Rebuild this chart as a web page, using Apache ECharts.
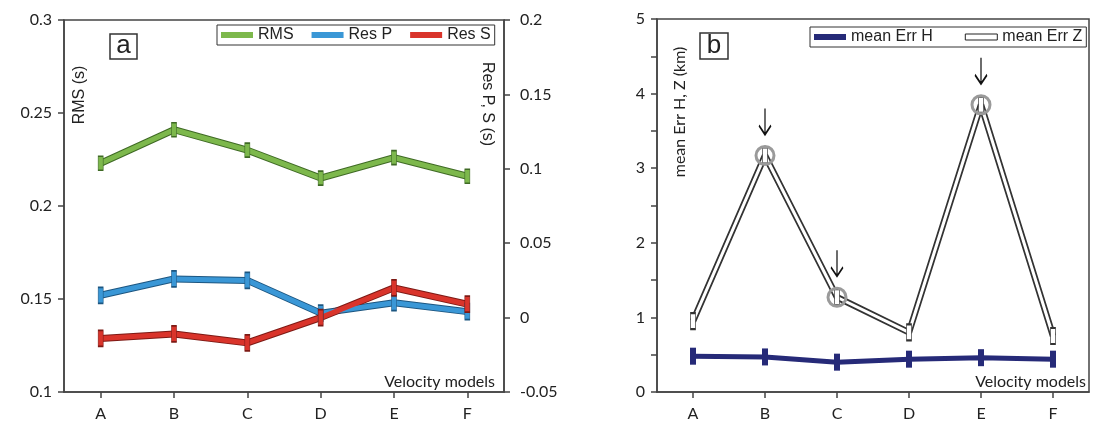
<!DOCTYPE html>
<html>
<head>
<meta charset="utf-8">
<script src="https://cdn.jsdelivr.net/npm/echarts@6/dist/echarts.min.js"></script>
<style>
html,body{margin:0;padding:0;background:#fff;}
#c{width:1098px;height:428px;}
</style>
</head>
<body>
<div id="c"></div>
<script>
// ---- data ----
const categories = ['A', 'B', 'C', 'D', 'E', 'F'];
const rms = [0.223, 0.241, 0.230, 0.215, 0.226, 0.216];
const resP = [0.015, 0.026, 0.025, 0.003, 0.010, 0.004];
const resS = [-0.014, -0.011, -0.017, 0.000, 0.020, 0.009];
const errH = [0.48, 0.47, 0.40, 0.44, 0.46, 0.44];
const errZ = [0.95, 3.17, 1.27, 0.80, 3.85, 0.75];
const markedModels = ['B', 'C', 'E'];
const leftTicksA = { min: 0.1, max: 0.3, step: 0.05 };
const rightTicksA = { min: -0.05, max: 0.2, step: 0.05 };
const ticksB = { min: 0, max: 5, step: 0.5 };

const numFont = 'Lato, "Open Sans", sans-serif';
const arialFont = '"Liberation Sans", Arial, sans-serif';
const axisColor = '#444';
const textColor = '#222';

function fmt2(v) { return String(+v.toFixed(2)); }

const chart = echarts.init(document.getElementById('c'), null, { renderer: 'canvas' });

function catAxis(gridIndex) {
  return {
    type: 'category', gridIndex: gridIndex, data: categories, boundaryGap: true,
    axisLine: { onZero: false, lineStyle: { color: axisColor, width: 1.5 } },
    axisTick: { show: true, alignWithLabel: true, length: 6, lineStyle: { color: axisColor, width: 1.5 } },
    axisLabel: { color: textColor, fontFamily: numFont, fontSize: 16, margin: 14 },
    splitLine: { show: false }
  };
}
function valAxis(gridIndex, t, pos, fmt, margin) {
  return {
    type: 'value', gridIndex: gridIndex, position: pos, min: t.min, max: t.max, interval: t.step,
    axisLine: { show: true, onZero: false, lineStyle: { color: axisColor, width: 1.5 } },
    axisTick: { show: true, length: 6, lineStyle: { color: axisColor, width: 1.5 } },
    axisLabel: { color: textColor, fontFamily: numFont, fontSize: 16, margin: margin, formatter: fmt },
    splitLine: { show: false }
  };
}

function outlined(name, data, yIdx, xIdx, color, dark, symSize) {
  const base = {
    name: name + '_outline', type: 'line', xAxisIndex: xIdx, yAxisIndex: yIdx, data: data,
    showSymbol: false, symbol: 'none', silent: true,
    lineStyle: { color: dark, width: 7 }, itemStyle: { color: dark }, z: 2
  };
  const main = {
    name: name, type: 'line', xAxisIndex: xIdx, yAxisIndex: yIdx, data: data,
    symbol: 'rect', symbolSize: symSize, showSymbol: true,
    lineStyle: { color: color, width: 5 },
    itemStyle: { color: color, borderColor: dark, borderWidth: 1 }, z: 3
  };
  return [base, main];
}

const arrowPath = 'path://M6,0 L6,26 M0.5,17 L6,26 L11.5,17';

const series = [].concat(
  outlined('RMS', rms, 0, 0, '#7db84c', '#3f6a25', [5, 14]),
  outlined('Res P', resP, 1, 0, '#3a97d6', '#1d5680', [5, 16]),
  outlined('Res S', resS, 1, 0, '#d9342b', '#7d1a15', [5, 16]),
  [
    {
      name: 'mean Err H', type: 'line', xAxisIndex: 1, yAxisIndex: 2, data: errH,
      symbol: 'rect', symbolSize: [6, 17],
      lineStyle: { color: '#262a78', width: 5 },
      itemStyle: { color: '#262a78' }, z: 3
    },
    {
      name: 'mean Err Z_outline', type: 'line', xAxisIndex: 1, yAxisIndex: 2, data: errZ,
      symbol: 'none', silent: true,
      lineStyle: { color: '#333', width: 6.5 }, itemStyle: { color: '#333' }, z: 2
    },
    {
      name: 'mean Err Z', type: 'line', xAxisIndex: 1, yAxisIndex: 2, data: errZ,
      symbol: 'rect', symbolSize: [5, 16],
      lineStyle: { color: '#fff', width: 3 },
      itemStyle: { color: '#fff', borderColor: '#333', borderWidth: 1.2 }, z: 3,
      markPoint: {
        silent: true,
        label: { show: false },
        data: markedModels.map(function (m) {
          const i = categories.indexOf(m);
          return { coord: [m, errZ[i]], symbol: 'circle', symbolSize: 18,
            itemStyle: { color: 'rgba(0,0,0,0)', borderColor: '#9a9a9a', borderWidth: 3 } };
        }).concat(markedModels.map(function (m) {
          const i = categories.indexOf(m);
          return { coord: [m, errZ[i]], symbol: arrowPath, symbolSize: [12, 26], symbolOffset: [0, -34],
            itemStyle: { color: 'rgba(0,0,0,0)', borderColor: '#111', borderWidth: 1.8 } };
        }))
      }
    }
  ]
);

const option = {
  animation: false,
  backgroundColor: '#fff',
  grid: [
    { left: 64, top: 20, width: 440, height: 372, show: true, borderColor: axisColor, borderWidth: 1.5, backgroundColor: 'transparent' },
    { left: 657, top: 19, width: 432, height: 373, show: true, borderColor: axisColor, borderWidth: 1.5, backgroundColor: 'transparent' }
  ],
  xAxis: [catAxis(0), catAxis(1)],
  yAxis: [
    valAxis(0, leftTicksA, 'left', fmt2, 12),
    valAxis(0, rightTicksA, 'right', fmt2, 16),
    valAxis(1, ticksB, 'left', function (v) { return Math.abs(v - Math.round(v)) < 1e-6 ? String(Math.round(v)) : ''; }, 12)
  ],
  legend: [
    {
      left: 217, top: 25, icon: 'rect', itemWidth: 32, itemHeight: 6, itemGap: 18,
      padding: [2, 4], borderColor: '#333', borderWidth: 1, selectedMode: false,
      itemStyle: { borderWidth: 0 },
      textStyle: { fontFamily: arialFont, fontSize: 16, color: textColor },
      data: ['RMS', 'Res P', 'Res S']
    },
    {
      left: 810, top: 27, icon: 'rect', itemWidth: 32, itemHeight: 6, itemGap: 32,
      padding: [2, 4], borderColor: '#333', borderWidth: 1, selectedMode: false,
      textStyle: { fontFamily: arialFont, fontSize: 16, color: textColor },
      data: [{ name: 'mean Err H', itemStyle: { borderWidth: 0 } },
             { name: 'mean Err Z', itemStyle: { color: '#fff', borderColor: '#222', borderWidth: 1 } }]
    }
  ],
  graphic: [
    { type: 'rect', shape: { x: 110, y: 34, width: 27, height: 25 }, style: { fill: 'none', stroke: '#333', lineWidth: 1.5 } },
    { type: 'text', x: 123.5, y: 46, style: { text: 'a', font: '26px ' + arialFont, fill: textColor, textAlign: 'center', verticalAlign: 'middle', textVerticalAlign: 'middle' } },
    { type: 'rect', shape: { x: 700, y: 33, width: 28, height: 26 }, style: { fill: 'none', stroke: '#333', lineWidth: 1.5 } },
    { type: 'text', x: 714, y: 45.5, style: { text: 'b', font: '26px ' + arialFont, fill: textColor, textAlign: 'center', verticalAlign: 'middle', textVerticalAlign: 'middle' } },
    { type: 'text', x: 80, y: 95, rotation: Math.PI / 2, style: { text: 'RMS (s)', font: '16px ' + arialFont, fill: textColor, textAlign: 'center', verticalAlign: 'middle', textVerticalAlign: 'middle' } },
    { type: 'text', x: 487, y: 104, rotation: -Math.PI / 2, style: { text: 'Res P, S (s)', font: '16px ' + arialFont, fill: textColor, textAlign: 'center', verticalAlign: 'middle', textVerticalAlign: 'middle' } },
    { type: 'text', x: 680, y: 112, rotation: Math.PI / 2, style: { text: 'mean Err H, Z (km)', font: '16px ' + numFont, fill: textColor, textAlign: 'center', verticalAlign: 'middle', textVerticalAlign: 'middle' } },
    { type: 'text', x: 495, y: 382, style: { text: 'Velocity models', font: '16px ' + numFont, fill: textColor, textAlign: 'right', verticalAlign: 'middle', textVerticalAlign: 'middle' } },
    { type: 'text', x: 1086, y: 382, style: { text: 'Velocity models', font: '16px ' + numFont, fill: textColor, textAlign: 'right', verticalAlign: 'middle', textVerticalAlign: 'middle' } }
  ],
  series: series
};
chart.setOption(option);
</script>
</body>
</html>
